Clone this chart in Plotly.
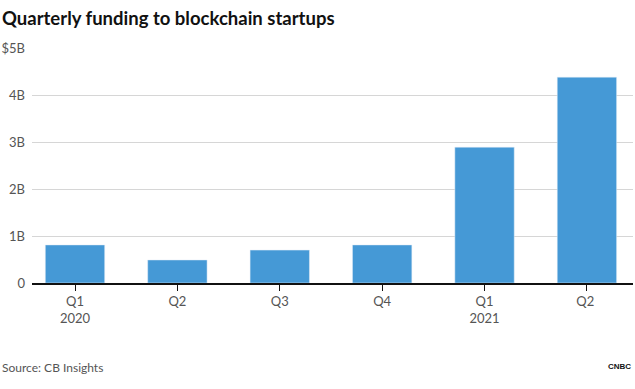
import plotly.graph_objects as go

categories = ["Q1<br>2020", "Q2", "Q3", "Q4", "Q1<br>2021", "Q2 "]
values = [0.81, 0.49, 0.70, 0.81, 2.89, 4.38]
tick_vals = [0, 1, 2, 3, 4, 5]
tick_text = ["0", "1B", "2B", "3B", "4B", "$5B"]

fig = go.Figure(go.Bar(x=categories, y=values, marker_color="#4599d6", width=0.58))

fig.update_layout(
    width=635, height=389,
    margin=dict(l=32, r=2, t=48, b=106, autoexpand=False),
    paper_bgcolor="white", plot_bgcolor="white",
    showlegend=False,
    font=dict(family="Lato, sans-serif", color="#555555", size=13),
)
fig.update_xaxes(
    type="category", range=[-0.42, 5.45], automargin=False,
    showline=True, linecolor="#111111", linewidth=1.5,
    ticks="outside", ticklen=6, tickcolor="#111111", tickwidth=1,
    tickfont=dict(size=13, color="#555555"), showgrid=False,
)
fig.update_yaxes(
    range=[0, 5], tickvals=tick_vals, ticktext=tick_text, automargin=False,
    showgrid=True, gridcolor="#d6d6d6", gridwidth=1,
    zeroline=False, ticks="", ticklabelstandoff=6,
    tickfont=dict(size=13, color="#555555"),
)
fig.add_annotation(text="<b>Quarterly funding to blockchain startups</b>", xref="paper", yref="paper",
                   x=0, xanchor="left", y=1, yanchor="bottom", yshift=17,
                   xshift=-32, showarrow=False, font=dict(size=18.5, color="#111111", family="Lato, sans-serif"))
fig.add_annotation(text="Source: CB Insights", xref="paper", yref="paper",
                   x=0, xanchor="left", y=0, yanchor="middle", yshift=-84, xshift=-32,
                   showarrow=False, font=dict(size=12, color="#555555"))
fig.add_annotation(text="<b>CNBC</b>", xref="paper", yref="paper",
                   x=1, xanchor="right", y=0, yanchor="middle", yshift=-83, xshift=0,
                   showarrow=False, font=dict(size=8, color="#111111", family="Arial Black, sans-serif"))
fig.write_html("out.html", post_script="document.body.style.margin='0';",
               config={"displayModeBar": False})
